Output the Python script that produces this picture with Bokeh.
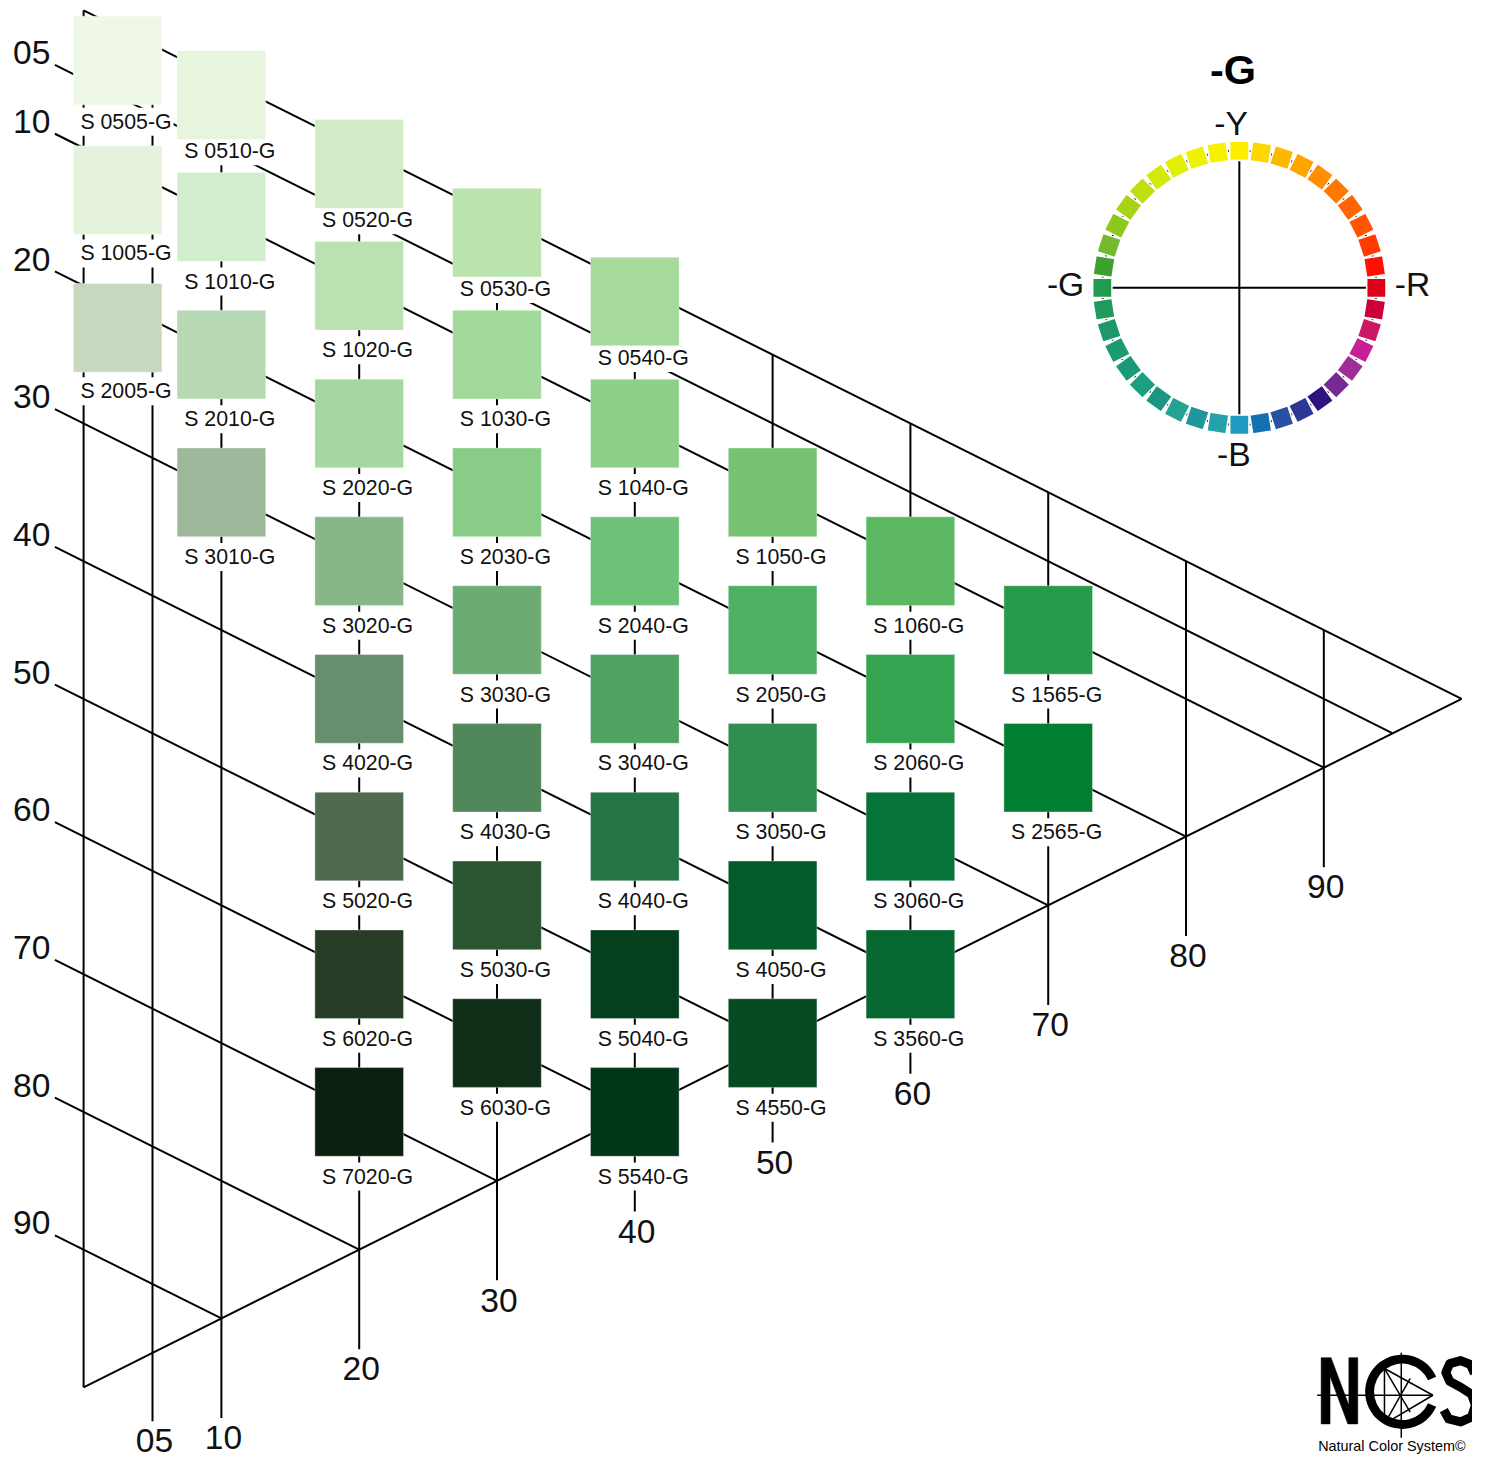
import math
from bokeh.plotting import figure
from bokeh.models import Range1d
from bokeh.embed import file_html
from bokeh.resources import INLINE
from bokeh.core.properties import value

# ---------------- data ----------------
HUE = "G"
TITLE = "-G"

blackness_ticks = [5, 10, 20, 30, 40, 50, 60, 70, 80, 90]
blackness_tick_labels = ["05", "10", "20", "30", "40", "50", "60", "70", "80", "90"]
chroma_ticks = [5, 10, 20, 30, 40, 50, 60, 70, 80, 90]
chroma_tick_labels = ["05", "10", "20", "30", "40", "50", "60", "70", "80", "90"]

swatch_labels = [
    "S 0505-G", "S 0510-G", "S 1005-G", "S 1010-G", "S 2005-G", "S 2010-G", "S 3010-G",
    "S 0520-G", "S 1020-G", "S 2020-G", "S 3020-G", "S 4020-G", "S 5020-G", "S 6020-G", "S 7020-G",
    "S 0530-G", "S 1030-G", "S 2030-G", "S 3030-G", "S 4030-G", "S 5030-G", "S 6030-G",
    "S 0540-G", "S 1040-G", "S 2040-G", "S 3040-G", "S 4040-G", "S 5040-G", "S 5540-G",
    "S 1050-G", "S 2050-G", "S 3050-G", "S 4050-G", "S 4550-G",
    "S 1060-G", "S 2060-G", "S 3060-G", "S 3560-G",
    "S 1565-G", "S 2565-G",
]
# blackness / chromaticness of the grid node each swatch sits on
swatch_grid_s = [5, 5, 10, 10, 20, 20, 30,
                 5, 10, 20, 30, 40, 50, 60, 70,
                 5, 10, 20, 30, 40, 50, 60,
                 5, 10, 20, 30, 40, 50, 60,
                 10, 20, 30, 40, 50,
                 10, 20, 30, 40,
                 10, 20]
swatch_grid_c = [5, 10, 5, 10, 5, 10, 10,
                 20, 20, 20, 20, 20, 20, 20, 20,
                 30, 30, 30, 30, 30, 30, 30,
                 40, 40, 40, 40, 40, 40, 40,
                 50, 50, 50, 50, 50,
                 60, 60, 60, 60,
                 70, 70]
swatch_colors = [
    "#EFF8E7", "#E7F4DE", "#E6F3DC", "#D2ECCE", "#C7D8BF", "#B6D8B2", "#9DB89B",
    "#D3ECC8", "#BAE2B1", "#A5D7A1", "#87B788", "#688F6D", "#4F6B4F", "#283D28", "#0D1F10",
    "#BBE3AD", "#A3D99B", "#89CC88", "#6DAB74", "#50875B", "#295630", "#0F2E18",
    "#A6DA9C", "#8DD189", "#6FC17A", "#51A261", "#267544", "#043F1E", "#023619",
    "#77C271", "#4DB063", "#2E8F4F", "#035A2B", "#044A22",
    "#5CB863", "#34A450", "#067438", "#066731",
    "#279B49", "#037F34",
]

# NCS hue circle, clockwise from Y at the top
hue_names = ["Y", "Y10R", "Y20R", "Y30R", "Y40R", "Y50R", "Y60R", "Y70R", "Y80R", "Y90R",
             "R", "R10B", "R20B", "R30B", "R40B", "R50B", "R60B", "R70B", "R80B", "R90B",
             "B", "B10G", "B20G", "B30G", "B40G", "B50G", "B60G", "B70G", "B80G", "B90G",
             "G", "G10Y", "G20Y", "G30Y", "G40Y", "G50Y", "G60Y", "G70Y", "G80Y", "G90Y"]
hue_colors = ["#FCEE00", "#FFD700", "#FFB800", "#FFA500", "#FF8E00", "#FF7900", "#FF6500", "#FF5400", "#FF3B00", "#FF1000",
              "#DD0019", "#CC0038", "#CC1766", "#C81E96", "#A02E98", "#762A92", "#31127F", "#2F3795", "#2552A3", "#1471B0",
              "#1E9BC0", "#26A0AA", "#1F979D", "#23A394", "#1A9683", "#1C9E80", "#1A9A78", "#1C9A70", "#1E9868", "#1E9A5A",
              "#219B4E", "#3DA22D", "#72BB2E", "#8CC81E", "#A8D414", "#C0DF0E", "#D4E80A", "#E3EF04", "#EEF100", "#F7F100"]
circle_axis_labels = ["-Y", "-R", "-B", "-G"]

# ---------------- geometry helpers (NCS units) ----------------
REF_W, REF_H = 1488.0, 1478.0   # design canvas
W, H = 1472, 1462               # figure size that fits the window
SC = min(W / REF_W, H / REF_H)
PX_X = 13.93   # design pixels per unit of chromaticness
PX_Y = 13.92   # design pixels per unit of blackness
OX, OY = 84.0, 10.0   # W corner in design pixels


def ux(px):
    return px / PX_X


def uy(px):
    return px / PX_Y


def fs(px):
    return "%.1fpx" % (px * SC)


def node(s, c):
    """NCS grid node -> data coords (x = chromaticness, y = -(s + c/2))."""
    return c, -(s + c / 2.0)


def P(px, py):
    """design pixel -> data coords (used for decorative logo only)."""
    return (px - OX) / PX_X, -(py - OY) / PX_Y


p = figure(width=W, height=H, output_backend="svg", toolbar_location=None,
           x_range=Range1d((0 - OX) / PX_X, (REF_W - OX) / PX_X),
           y_range=Range1d(-(REF_H - OY) / PX_Y, -(0 - OY) / PX_Y),
           min_border=0, outline_line_color=None, background_fill_color="white",
           border_fill_color="white")
p.axis.visible = False
p.xgrid.visible = False
p.ygrid.visible = False

FONT = value("Liberation Sans")
LW = 2

# ---------------- triangle + grid ----------------
xs, ys = [], []
for (s0, c0), (s1, c1) in [((0, 0), (0, 100)), ((0, 0), (100, 0)), ((100, 0), (0, 100))]:
    a, b = node(s0, c0), node(s1, c1)
    xs.append([a[0], b[0]]); ys.append([a[1], b[1]])
LEFT_START = -ux(29)
for s in blackness_ticks:
    a = (LEFT_START, -(s + LEFT_START / 2.0))
    b = node(s, 100 - s)
    xs.append([a[0], b[0]]); ys.append([a[1], b[1]])
line_ends = []
for c in chroma_ticks:
    ext = uy(100.6) if c >= 10 else uy(69)
    a = node(0, c)
    b = node(100 - c, c)
    yend = b[1] - ext
    line_ends.append(yend)
    xs.append([a[0], a[0]]); ys.append([a[1], yend])
p.multi_line(xs, ys, line_color="black", line_width=LW)

# text anchors below give the vertical centre of the capitals
# blackness scale labels (left)
lx = [(50.5 - OX) / PX_X] * len(blackness_ticks)
ly = [-(s + LEFT_START / 2.0) + uy(12.5) for s in blackness_ticks]
p.text(lx, ly, text=blackness_tick_labels, text_align="right", text_baseline="alphabetic",
       text_font=FONT, text_font_size=fs(34), text_color="#111111")

# chromaticness scale labels (bottom)
bx = [c + ux(2) for c in chroma_ticks]
by = [ye - uy(20) for ye in line_ends]
p.text(bx, by, text=chroma_tick_labels, text_align="center", text_baseline="alphabetic",
       text_font=FONT, text_font_size=fs(34), text_color="#111111")

# ---------------- swatches ----------------
sx, sy, tx, ty = [], [], [], []
for s, c in zip(swatch_grid_s, swatch_grid_c):
    x, y = node(s, c)
    dxp, dyp = 0.0, 0.0
    if c == 5:
        dxp = -35.3
    if s == 5:
        dyp = -53.7
    elif c == 5:
        dyp = 7.7
    if s == 5:
        lab = 62.0 if c == 5 else 57.0
    else:
        lab = 64.0 if c == 5 else 65.3
    cx_, cy_ = x + ux(dxp), y - uy(dyp)
    sx.append(cx_); sy.append(cy_)
    tx.append(cx_ + ux(8.5)); ty.append(cy_ - uy(lab))

p.text(tx, ty, text=swatch_labels, text_align="center", text_baseline="alphabetic",
       text_font=FONT, text_font_size=fs(21.5), text_color="#111111",
       background_fill_color="white", padding=2)
p.rect(sx, sy, width=ux(89.6), height=uy(89.6), fill_color=swatch_colors,
       line_color="white", line_alpha=0.35, line_width=1)

# ---------------- hue circle ----------------
CX, CY = (1252.3 - OX) / PX_X, -(290.5 - OY) / PX_Y
R = ux(138.5)
p.circle(x=[CX], y=[CY], radius=R, fill_color=None, line_color="black", line_width=LW)
p.multi_line([[CX - R, CX + R], [CX, CX]], [[CY, CY], [CY - R, CY + R]],
             line_color="black", line_width=LW)
n = len(hue_colors)
ang = [math.pi / 2 - i * 2 * math.pi / n for i in range(n)]
hx = [CX + R * math.cos(a) for a in ang]
hy = [CY + R * math.sin(a) for a in ang]
p.rect(hx, hy, width=ux(19.5), height=uy(19.5), angle=ang, fill_color=hue_colors,
       line_color="white", line_width=1.5)

# circle labels: -Y (top), -R (right), -B (bottom), -G (left)
p.text([CX - ux(8.3)], [CY + R + uy(28)], text=[circle_axis_labels[0]], text_align="center",
       text_baseline="alphabetic", text_font=FONT, text_font_size=fs(34), text_color="#111111")
p.text([CX + R + ux(18.7)], [CY + uy(3.8)], text=[circle_axis_labels[1]], text_align="left",
       text_baseline="alphabetic", text_font=FONT, text_font_size=fs(34), text_color="#111111")
p.text([CX - ux(5.6)], [CY - R - uy(30)], text=[circle_axis_labels[2]], text_align="center",
       text_baseline="alphabetic", text_font=FONT, text_font_size=fs(34), text_color="#111111")
p.text([CX - R - ux(18.3)], [CY + uy(3.8)], text=[circle_axis_labels[3]], text_align="right",
       text_baseline="alphabetic", text_font=FONT, text_font_size=fs(34), text_color="#111111")
p.text([CX - ux(6.3)], [CY + R + uy(82)], text=[TITLE], text_align="center",
       text_baseline="alphabetic", text_font=FONT, text_font_size=fs(42),
       text_font_style="bold", text_color="#000000")

# ---------------- NCS logo (decorative) ----------------
npts = [(1335, 1439), (1335, 1372), (1345, 1372), (1363, 1420), (1363, 1372), (1372, 1372),
        (1372, 1439), (1362, 1439), (1344, 1391), (1344, 1439)]
p.patch([P(*q)[0] for q in npts], [P(*q)[1] for q in npts], fill_color="black", line_color="black",
        line_width=0.5)
ccx, ccy = P(1417, 1406.5)
p.annular_wedge(x=[ccx], y=[ccy], inner_radius=uy(28.5), outer_radius=uy(37.5),
                start_angle=math.radians(24), end_angle=math.radians(336),
                fill_color="black", line_color=None)
logo_lines = [((1399, 1383), (1399, 1439)), ((1399, 1383), (1448, 1410)), ((1399, 1439), (1448, 1410)),
              ((1399, 1383), (1425, 1427)), ((1399, 1439), (1425, 1393)),
              ((1331, 1410), (1448, 1410)), ((1416, 1367), (1416, 1453))]
p.multi_line([[P(*a)[0], P(*b)[0]] for a, b in logo_lines],
             [[P(*a)[1], P(*b)[1]] for a, b in logo_lines], line_color="black", line_width=1.5)
spts = [(1490, 1388), (1486, 1379), (1476, 1375), (1465, 1378), (1461, 1387), (1465, 1396),
        (1476, 1402), (1487, 1409), (1491, 1420), (1487, 1432), (1476, 1437), (1464, 1434), (1459, 1425)]
p.line([P(*q)[0] for q in spts], [P(*q)[1] for q in spts], line_color="black", line_width=9,
       line_join="round")
lt = P(1332, 1461)
p.text([lt[0]], [lt[1]], text=["Natural Color System\u00a9"], text_align="left",
       text_baseline="alphabetic", text_font=FONT, text_font_size=fs(14.6), text_color="#000000")

open("out.html", "w").write(file_html(p, INLINE))
